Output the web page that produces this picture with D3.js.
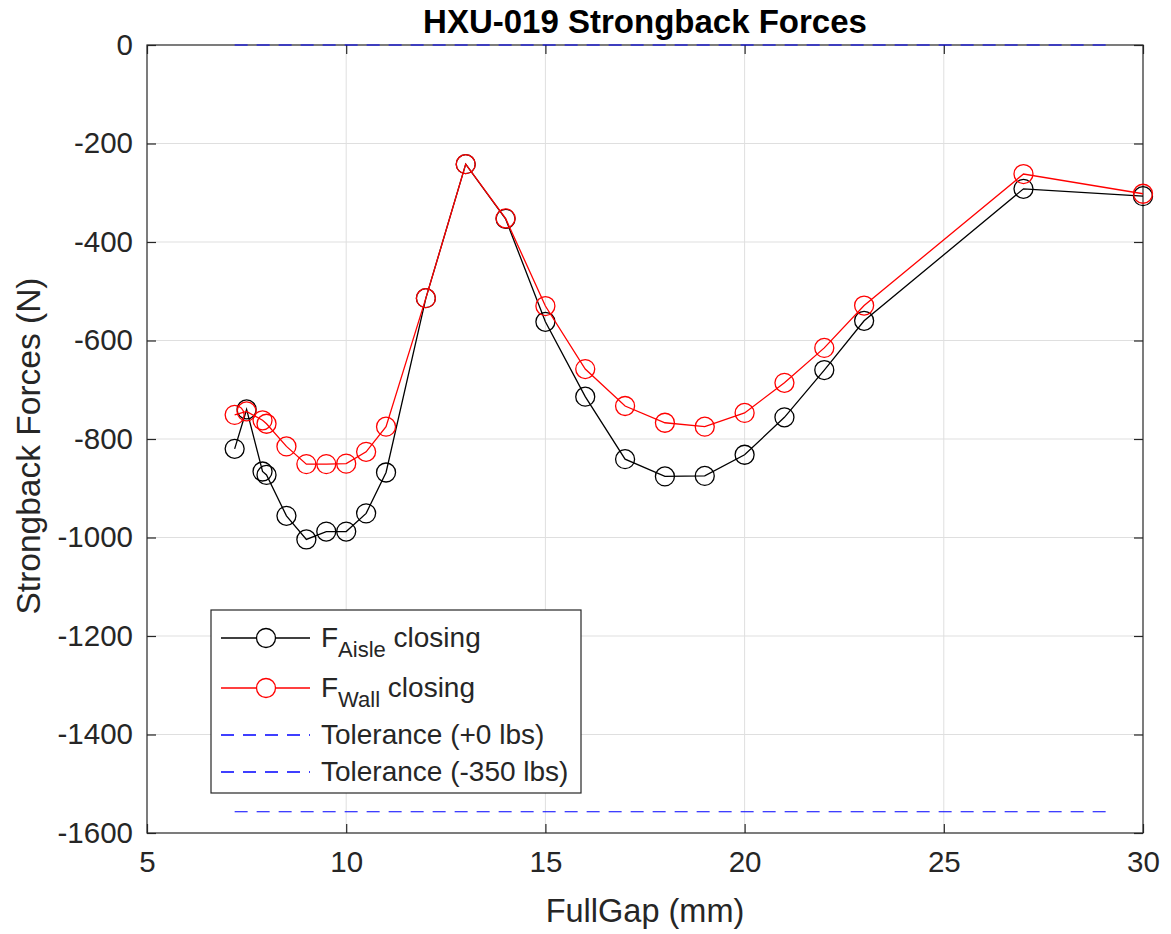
<!DOCTYPE html>
<meta charset="utf-8" />
<style>
  body {
    background: #fff;
    margin: 0px;
  }
  text {
    font-family: "Liberation Sans", Arial, sans-serif;
    fill: #262626;
  }
  .grid line {
    stroke: #dfdfdf;
    stroke-width: 1px;
  }
  .frame {
    fill: none;
    stroke: #262626;
    stroke-width: 1.2px;
  }
  .tick-mark {
    stroke: #262626;
    stroke-width: 1.2px;
  }
</style>
<body></body>
<script src="https://d3js.org/d3.v7.min.js"></script>
<script>
  var width = 1171,
    height = 934;

  // FullGap positions (mm)
  var gap = [7.2, 7.5, 7.9, 8, 8.5, 9, 9.5, 10, 10.5, 11, 12, 13, 14, 15, 16, 17, 18, 19, 20, 21, 22, 23, 27, 30];

  // strongback forces (N)
  var aisle = [-820, -740, -866, -873, -956, -1004, -988, -988, -951, -868, -514, -242, -353, -562, -714, -841, -876, -875, -832, -756, -660, -560, -292, -307];
  var wall = [-751, -744, -762, -769, -815, -851, -851, -850, -826, -775, -514, -242, -352, -530, -658, -733, -767, -775, -747, -686, -615, -529, -262, -302];

  // tolerance lines: 0 lbs and -350 lbs in N
  var tolerance = [0, -1556.9];
  var toleranceGap = [7.2, 29.2];

  var xTicks = [5, 10, 15, 20, 25, 30];
  var yTicks = [0, -200, -400, -600, -800, -1000, -1200, -1400, -1600];

  var plotLeft = 147,
    plotRight = 1143,
    plotTop = 45,
    plotBottom = 833;

  var x = d3.scaleLinear().domain([5, 30]).range([plotLeft, plotRight]);
  var y = d3.scaleLinear().domain([-1600, 0]).range([plotBottom, plotTop]);
  var fmt = function (d) { return String(d); };

  var svg = d3
    .select("body")
    .append("svg")
    .attr("width", width)
    .attr("height", height);

  // grid
  var grid = svg.append("g").attr("class", "grid");
  grid.selectAll(".gx").data(xTicks.slice(1, -1)).enter().append("line")
    .attr("x1", x).attr("x2", x).attr("y1", plotTop).attr("y2", plotBottom);
  grid.selectAll(".gy").data(yTicks.slice(1, -1)).enter().append("line")
    .attr("x1", plotLeft).attr("x2", plotRight).attr("y1", y).attr("y2", y);

  // axes with inward ticks on all four sides
  var tickLen = 9;
  svg.append("g").attr("transform", "translate(0," + plotBottom + ")")
    .call(d3.axisBottom(x).tickValues(xTicks).tickFormat(fmt).tickSizeInner(-tickLen).tickSizeOuter(0).tickPadding(18))
    .call(styleAxis);
  svg.append("g").attr("transform", "translate(0," + plotTop + ")")
    .call(d3.axisTop(x).tickValues(xTicks).tickSizeInner(-tickLen).tickSizeOuter(0).tickFormat(""))
    .call(styleAxis);
  svg.append("g").attr("transform", "translate(" + plotLeft + ",0)")
    .call(d3.axisLeft(y).tickValues(yTicks).tickFormat(fmt).tickSizeInner(-tickLen).tickSizeOuter(0).tickPadding(14))
    .call(styleAxis);
  svg.append("g").attr("transform", "translate(" + plotRight + ",0)")
    .call(d3.axisRight(y).tickValues(yTicks).tickSizeInner(-tickLen).tickSizeOuter(0).tickFormat(""))
    .call(styleAxis);

  function styleAxis(g) {
    g.select(".domain").remove();
    g.selectAll("line").attr("class", "tick-mark");
    g.selectAll("text")
      .attr("font-family", null)
      .style("font-family", '"Liberation Sans", Arial, sans-serif')
      .style("font-size", "29.5px")
      .attr("fill", "#262626");
  }

  svg.append("rect").attr("class", "frame")
    .attr("x", plotLeft).attr("y", plotTop)
    .attr("width", plotRight - plotLeft).attr("height", plotBottom - plotTop);

  // tolerance dashed lines
  tolerance.forEach(function (t) {
    svg.append("line")
      .attr("x1", x(toleranceGap[0])).attr("x2", x(toleranceGap[1]))
      .attr("y1", y(t)).attr("y2", y(t))
      .attr("stroke", "#0000ff").attr("stroke-width", 1.2)
      .attr("stroke-dasharray", "13,9");
  });

  var line = d3.line().x(function (d) { return x(d[0]); }).y(function (d) { return y(d[1]); });

  function drawSeries(values, color) {
    var pts = gap.map(function (g, i) { return [g, values[i]]; });
    svg.append("path").datum(pts)
      .attr("d", line).attr("fill", "none")
      .attr("stroke", color).attr("stroke-width", 1.3);
    svg.append("g").selectAll("circle").data(pts).enter().append("circle")
      .attr("cx", function (d) { return x(d[0]); })
      .attr("cy", function (d) { return y(d[1]); })
      .attr("r", 9.5).attr("fill", "none")
      .attr("stroke", color).attr("stroke-width", 1.3);
  }

  drawSeries(aisle, "#000000");
  drawSeries(wall, "#ff0000");

  // title and labels
  svg.append("text").attr("x", (plotLeft + plotRight) / 2).attr("y", 33)
    .attr("text-anchor", "middle").style("font-size", "33px")
    .style("font-weight", "bold").style("fill", "#000").text("HXU-019 Strongback Forces");
  svg.append("text").attr("x", (plotLeft + plotRight) / 2).attr("y", 922)
    .attr("text-anchor", "middle").style("font-size", "32.5px").text("FullGap (mm)");
  svg.append("text")
    .attr("transform", "translate(40,446) rotate(-90)")
    .attr("text-anchor", "middle").style("font-size", "33.5px").text("Strongback Forces (N)");

  // legend
  var legend = svg.append("g");
  legend.append("rect").attr("x", 211).attr("y", 610).attr("width", 370).attr("height", 183)
    .attr("fill", "#fff").attr("stroke", "#262626").attr("stroke-width", 1.2);

  var entries = [
    { main: "F", sub: "Aisle", rest: " closing", color: "#000000", dash: null, marker: true, cy: 638 },
    { main: "F", sub: "Wall", rest: " closing", color: "#ff0000", dash: null, marker: true, cy: 688 },
    { main: "Tolerance (+0 lbs)", sub: null, rest: null, color: "#0000ff", dash: "13,9", marker: false, cy: 735 },
    { main: "Tolerance (-350 lbs)", sub: null, rest: null, color: "#0000ff", dash: "13,9", marker: false, cy: 772 },
  ];

  entries.forEach(function (e) {
    legend.append("line").attr("x1", 221).attr("x2", 310).attr("y1", e.cy).attr("y2", e.cy)
      .attr("stroke", e.color).attr("stroke-width", 1.3)
      .attr("stroke-dasharray", e.dash);
    if (e.marker) {
      legend.append("circle").attr("cx", 266).attr("cy", e.cy).attr("r", 9.5)
        .attr("fill", "#fff").attr("stroke", e.color).attr("stroke-width", 1.3);
    }
    var t = legend.append("text").attr("x", 321).attr("y", e.cy + 9).style("font-size", "28px");
    t.append("tspan").text(e.main);
    if (e.sub) {
      t.append("tspan").attr("dy", 10).style("font-size", "22px").text(e.sub);
      t.append("tspan").attr("dy", -10).text(e.rest);
    }
  });
</script>
